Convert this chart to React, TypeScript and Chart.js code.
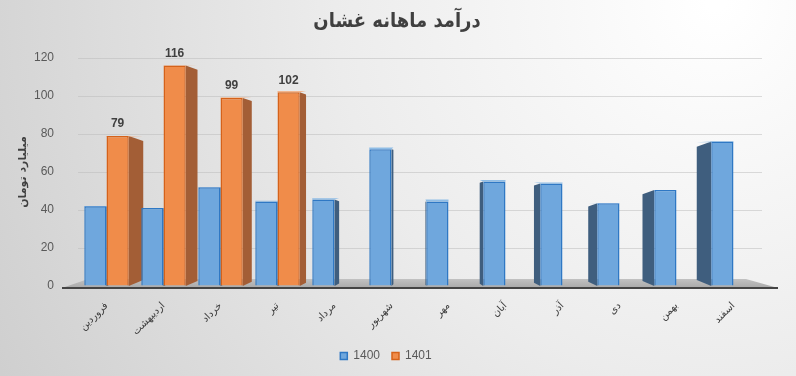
import React, { useEffect, useRef } from "react";
import { Chart, registerables } from "chart.js";

Chart.register(...registerables);

const chartTitle = "درآمد ماهانه غشان";
const yAxisTitle = "میلیارد تومان";
const months = ["فروردین", "اردیبهشت", "خرداد", "تیر", "مرداد", "شهریور", "مهر", "آبان", "آذر", "دی", "بهمن", "اسفند"];
const seriesNames = ["1400", "1401"];
const sales1400 = [42, 41, 52, 44.5, 45.5, 72, 44.5, 55, 54, 43.5, 50.5, 76];
const sales1401 = [79, 116, 99, 102, null, null, null, null, null, null, null, null];
const yTicksMax = 120;
const yTicksStep = 20;

const FONT = "'DejaVu Sans', 'Liberation Sans', sans-serif";
const TITLE_FONT = "'DejaVu Sans Condensed', 'DejaVu Sans', sans-serif";

const bgPlugin = {
  id: "bg",
  beforeDraw(chart: any) {
    const { ctx, width, height } = chart;
    ctx.save();
    const g = ctx.createRadialGradient(width * 0.9, 0, 10, width * 0.9, 0, width * 1.05);
    g.addColorStop(0, "#ffffff");
    g.addColorStop(0.45, "#ececec");
    g.addColorStop(1, "#cdcdcd");
    ctx.fillStyle = g;
    ctx.fillRect(0, 0, width, height);
    ctx.restore();
  },
  afterDraw(chart: any) {
    const { ctx, width } = chart;
    ctx.save();
    ctx.font = "bold 20px " + TITLE_FONT;
    ctx.fillStyle = "#404040";
    ctx.textAlign = "center";
    ctx.textBaseline = "middle";
    ctx.fillText(chartTitle, width / 2 - 1, 22);
    ctx.restore();
  },
};

const sideColors = ["#3f5e7e", "#a35e36"];
const topColors = ["#8fbde6", "#f4a56f"];

const threeDPlugin = {
  id: "threeD",
  beforeDatasetsDraw(chart: any) {
    const { ctx, chartArea } = chart;
    const cx = (chartArea.left + chartArea.right) / 2;
    const base = chart.scales.y.getPixelForValue(0);
    ctx.save();
    // floor
    const fg = ctx.createLinearGradient(0, base - 8, 0, base + 2);
    fg.addColorStop(0, "#c4c4c4");
    fg.addColorStop(1, "#a9a9a9");
    ctx.fillStyle = fg;
    ctx.beginPath();
    ctx.moveTo(chartArea.left + 10, base - 7);
    ctx.lineTo(chartArea.right - 16, base - 7);
    ctx.lineTo(chartArea.right + 16, base + 2);
    ctx.lineTo(chartArea.left - 16, base + 2);
    ctx.closePath();
    ctx.fill();
    ctx.strokeStyle = "#444444";
    ctx.lineWidth = 2;
    ctx.beginPath();
    ctx.moveTo(chartArea.left - 16, base + 2);
    ctx.lineTo(chartArea.right + 16, base + 2);
    ctx.stroke();
    // sides
    chart.data.datasets.forEach((ds: any, di: number) => {
      const meta = chart.getDatasetMeta(di);
      meta.data.forEach((bar: any, i: number) => {
        if (ds.data[i] == null) return;
        const { x, y, width } = bar.getProps(["x", "y", "width"], true);
        const d = -(x - cx) * 0.048;
        const edge = d >= 0 ? x + width / 2 : x - width / 2;
        const t = Math.abs(d) * 0.35;
        ctx.fillStyle = sideColors[di];
        ctx.beginPath();
        ctx.moveTo(edge, y);
        ctx.lineTo(edge + d, y + t);
        ctx.lineTo(edge + d, base - t - 1);
        ctx.lineTo(edge, base);
        ctx.closePath();
        ctx.fill();
        ctx.fillStyle = topColors[di];
        ctx.beginPath();
        ctx.moveTo(x - width / 2, y);
        ctx.lineTo(x + width / 2, y);
        ctx.lineTo(x + width / 2 + (d > 0 ? d : 0), y + t * 0.5 - 2);
        ctx.lineTo(x - width / 2 + (d < 0 ? d : 0), y + t * 0.5 - 2);
        ctx.closePath();
        ctx.fill();
      });
    });
    ctx.restore();
  },
  afterDatasetsDraw(chart: any) {
    const { ctx } = chart;
    const meta = chart.getDatasetMeta(1);
    ctx.save();
    ctx.font = "bold 12px 'Liberation Sans', sans-serif";
    ctx.fillStyle = "#404040";
    ctx.textAlign = "center";
    ctx.textBaseline = "bottom";
    meta.data.forEach((bar: any, i: number) => {
      const v = sales1401[i];
      if (v == null) return;
      ctx.fillText(String(v), bar.x, bar.y - 6);
    });
    ctx.restore();
  },
};

export default function App() {
  const ref = useRef<HTMLCanvasElement | null>(null);
  useEffect(() => {
    if (!ref.current) return;
    const chart = new Chart(ref.current, {
      type: "bar",
      data: {
        labels: months,
        datasets: [
          {
            label: seriesNames[0],
            data: sales1400,
            backgroundColor: "#6fa7dd",
            borderColor: "#2f78c4",
            borderWidth: 1.5,
            categoryPercentage: 0.78,
            barPercentage: 1,
          },
          {
            label: seriesNames[1],
            data: sales1401,
            backgroundColor: "#f08c4a",
            borderColor: "#d5621a",
            borderWidth: 1.5,
            categoryPercentage: 0.78,
            barPercentage: 1,
          },
        ],
      },
      options: {
        responsive: false,
        animation: false,
        layout: { padding: { left: 10, right: 34, top: 10, bottom: 4 } },
        plugins: {
          title: {
            display: true,
            text: chartTitle,
            color: "rgba(0,0,0,0)",
            font: { family: TITLE_FONT, size: 20, weight: "bold" },
            padding: { top: 4, bottom: 20 },
          },
          legend: {
            position: "bottom",
            labels: {
              color: "#595959",
              font: { family: "'Liberation Sans', sans-serif", size: 12 },
              boxWidth: 7,
              boxHeight: 7,
              padding: 12,
            },
          },
          tooltip: { enabled: false },
        },
        scales: {
          x: {
            grid: { display: false },
            border: { display: false },
            ticks: {
              color: "#404040",
              font: { family: FONT, size: 10 },
              maxRotation: 45,
              minRotation: 45,
              padding: 6,
            },
            afterFit(s: any) {
              s.height = 52;
            },
          },
          y: {
            min: 0,
            max: yTicksMax,
            grid: { color: "rgba(185,185,185,0.5)", drawTicks: false },
            border: { display: false },
            ticks: {
              stepSize: yTicksStep,
              color: "#595959",
              font: { family: "'Liberation Sans', sans-serif", size: 12 },
              padding: 24,
            },
            title: {
              display: true,
              text: yAxisTitle,
              color: "#404040",
              font: { family: FONT, size: 11, weight: "bold" },
              padding: { top: 7, bottom: 0 },
            },
            afterFit(s: any) {
              s.width = 68;
            },
          },
        },
      },
      plugins: [bgPlugin, threeDPlugin],
    });
    return () => chart.destroy();
  }, []);
  return (
    <div style={{ position: "fixed", left: 0, top: 0, width: 796, height: 376 }}>
      <canvas ref={ref} width={796} height={376} style={{ display: "block" }} />
    </div>
  );
}
